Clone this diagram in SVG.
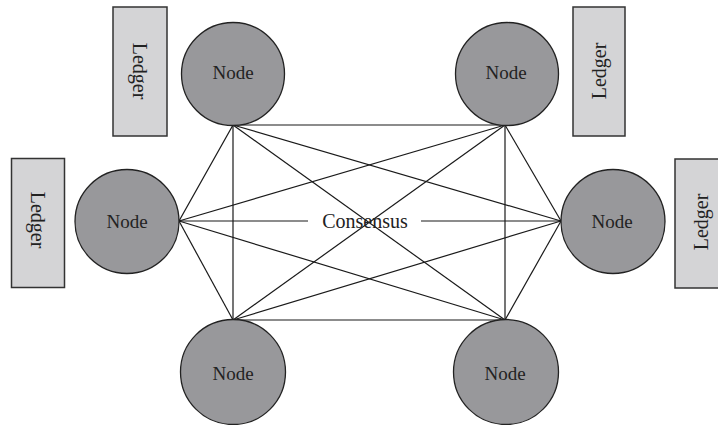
<svg xmlns="http://www.w3.org/2000/svg" width="718" height="425" viewBox="0 0 718 425">
  <style>
    .ledger { fill: #d4d4d6; stroke: #333; stroke-width: 1.5; }
    .node { fill: #98989b; stroke: #222; stroke-width: 1.3; }
    .label { font-family: "Liberation Serif", "Times New Roman", serif; fill: #222; text-anchor: middle; dominant-baseline: central; }
    .node-label { font-size: 19px; }
    .ledger-label { font-size: 20px; }
    .link { stroke: #1a1a1a; stroke-width: 1.2; fill: none; }
  </style>
  <rect width="718" height="425" fill="#ffffff"/>

  <!-- full mesh between the six nodes -->
  <g id="connectors" class="link">
    <line x1="233" y1="125" x2="505" y2="125"/>
    <line x1="233" y1="125" x2="179" y2="221"/>
    <line x1="233" y1="125" x2="561" y2="221"/>
    <line x1="233" y1="125" x2="233" y2="320"/>
    <line x1="233" y1="125" x2="505" y2="320"/>
    <line x1="505" y1="125" x2="179" y2="221"/>
    <line x1="505" y1="125" x2="561" y2="221"/>
    <line x1="505" y1="125" x2="233" y2="320"/>
    <line x1="505" y1="125" x2="505" y2="320"/>
    <line x1="179" y1="221" x2="308" y2="221"/>
    <line x1="421" y1="221" x2="561" y2="221"/>
    <line x1="179" y1="221" x2="233" y2="320"/>
    <line x1="179" y1="221" x2="505" y2="320"/>
    <line x1="561" y1="221" x2="233" y2="320"/>
    <line x1="561" y1="221" x2="505" y2="320"/>
    <line x1="233" y1="320" x2="505" y2="320"/>
  </g>
  <text id="consensus" class="label" x="365" y="221" font-size="20">Consensus</text>

  <!-- ledgers -->
  <g id="ledger-top-left">
    <rect class="ledger" x="113" y="7" width="54" height="129"/>
    <text class="label ledger-label" transform="translate(140 71) rotate(90)">Ledger</text>
  </g>
  <g id="ledger-left">
    <rect class="ledger" x="11.5" y="158.5" width="53" height="129"/>
    <text class="label ledger-label" transform="translate(38 220) rotate(90)">Ledger</text>
  </g>
  <g id="ledger-top-right">
    <rect class="ledger" x="573" y="7" width="52" height="129"/>
    <text class="label ledger-label" transform="translate(599 71) rotate(-90)">Ledger</text>
  </g>
  <g id="ledger-right">
    <rect class="ledger" x="675" y="159" width="55" height="129"/>
    <text class="label ledger-label" transform="translate(701 222) rotate(-90)">Ledger</text>
  </g>

  <!-- nodes -->
  <g id="node-top-left">
    <circle class="node" cx="233" cy="74" r="51.5"/>
    <text class="label node-label" x="233" y="72">Node</text>
  </g>
  <g id="node-top-right">
    <circle class="node" cx="507" cy="74" r="51.5"/>
    <text class="label node-label" x="506" y="72">Node</text>
  </g>
  <g id="node-left">
    <circle class="node" cx="127" cy="221.5" r="52"/>
    <text class="label node-label" x="127" y="221">Node</text>
  </g>
  <g id="node-right">
    <circle class="node" cx="613" cy="221.5" r="52"/>
    <text class="label node-label" x="612" y="221">Node</text>
  </g>
  <g id="node-bottom-left">
    <circle class="node" cx="233" cy="372" r="52.5"/>
    <text class="label node-label" x="233" y="373">Node</text>
  </g>
  <g id="node-bottom-right">
    <circle class="node" cx="506" cy="372" r="52.5"/>
    <text class="label node-label" x="505" y="373">Node</text>
  </g>
</svg>
